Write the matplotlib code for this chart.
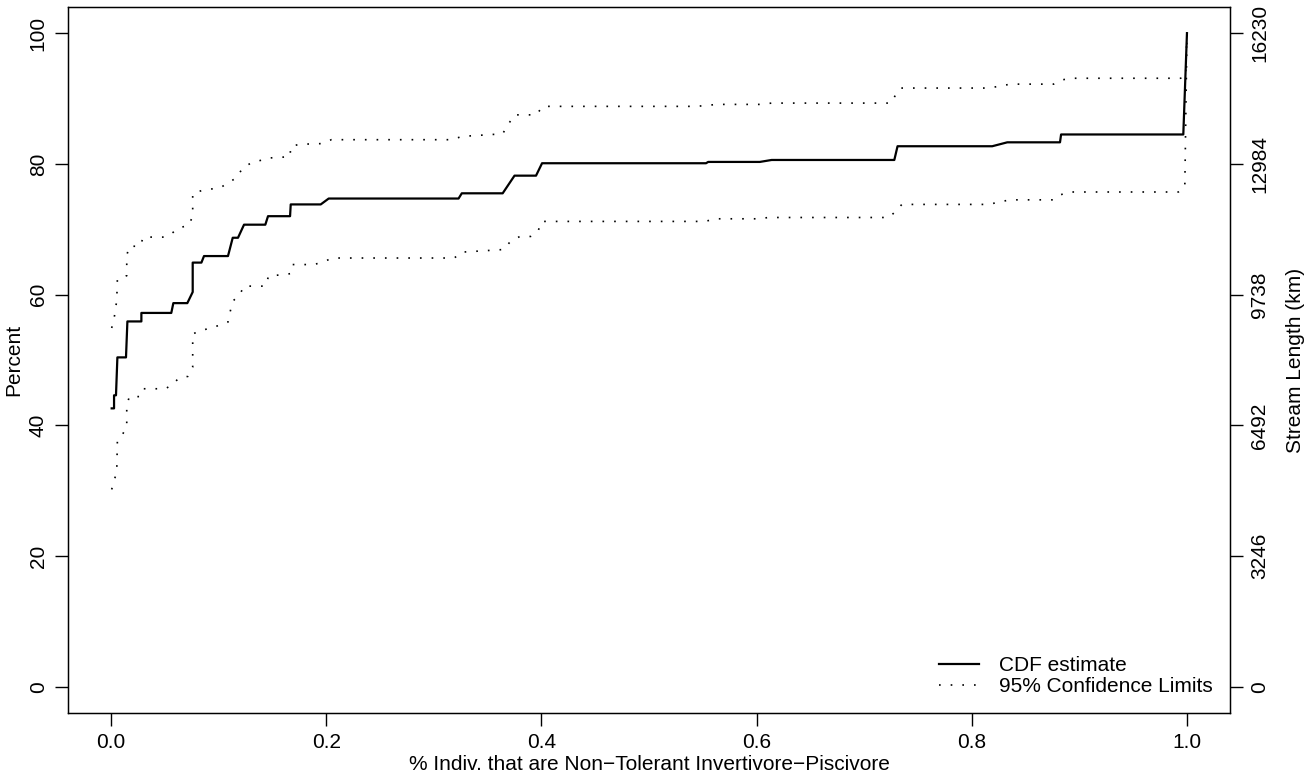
import matplotlib
matplotlib.use("Agg")
import matplotlib.pyplot as plt

plt.rcParams['font.family'] = ['Liberation Sans', 'DejaVu Sans']
plt.rcParams['font.size'] = 15

# CDF estimate (x = proportion, y = percent)
cdf_x = [0.0006, 0.0028, 0.0028, 0.0046, 0.0059, 0.0139, 0.0152, 0.0282, 0.0282,
         0.056, 0.0579, 0.0709, 0.0759, 0.0759, 0.084, 0.0864, 0.1087, 0.1131,
         0.118, 0.1236, 0.1434, 0.1459, 0.1664, 0.167, 0.1949, 0.2023,
         0.323, 0.326, 0.364, 0.375, 0.395, 0.4006, 0.553, 0.555, 0.603, 0.614,
         0.728, 0.731, 0.819, 0.833, 0.882, 0.883, 0.9966, 1.0]
cdf_y = [42.6, 42.6, 44.6, 44.6, 50.4, 50.4, 55.9, 55.9, 57.2,
         57.2, 58.7, 58.7, 60.4, 64.9, 64.9, 65.9, 65.9, 68.7,
         68.7, 70.7, 70.7, 72.0, 72.0, 73.8, 73.8, 74.7,
         74.7, 75.5, 75.5, 78.2, 78.2, 80.1, 80.1, 80.3, 80.3, 80.6,
         80.6, 82.7, 82.7, 83.3, 83.3, 84.5, 84.5, 100.0]

# upper 95% confidence limit
upper_x = [0.0006, 0.0028, 0.0053, 0.0059, 0.0146, 0.0146, 0.017, 0.027, 0.030,
           0.050, 0.0567, 0.0629, 0.0722, 0.0759, 0.0759, 0.084, 0.102, 0.1168,
           0.1224, 0.1298, 0.1466, 0.1664, 0.167, 0.1757, 0.1955, 0.2048,
           0.317, 0.326, 0.364, 0.369, 0.375, 0.395, 0.4015, 0.544, 0.554, 0.563,
           0.603, 0.614, 0.725, 0.729, 0.734, 0.816, 0.826, 0.836, 0.876, 0.883,
           0.891, 0.994, 0.9987, 1.0]
upper_y = [54.9, 56.3, 59.1, 62.4, 62.9, 66.0, 67.4, 67.4, 68.8,
           68.8, 69.4, 70.2, 70.6, 72.0, 75.5, 75.9, 76.4, 77.9,
           79.4, 80.1, 80.9, 81.1, 82.7, 83.0, 83.1, 83.7,
           83.7, 84.2, 84.6, 86.0, 87.5, 87.5, 88.8, 88.8, 88.95, 89.1,
           89.1, 89.3, 89.3, 90.5, 91.6, 91.6, 91.9, 92.2, 92.2, 92.8,
           93.1, 93.1, 93.3, 100.0]

# lower 95% confidence limit
lower_x = [0.0006, 0.0028, 0.0053, 0.0059, 0.0109, 0.0146, 0.0146, 0.017, 0.027,
           0.030, 0.0505, 0.0567, 0.0629, 0.0716, 0.0759, 0.0759, 0.084, 0.1006,
           0.1087, 0.1106, 0.1131, 0.1193, 0.1236, 0.1434, 0.1466, 0.1571, 0.1664,
           0.1683, 0.189, 0.198, 0.2066, 0.319, 0.326, 0.365, 0.371, 0.380, 0.390,
           0.3969, 0.400, 0.552, 0.562, 0.602, 0.611, 0.723, 0.729, 0.735, 0.816,
           0.826, 0.836, 0.876, 0.883, 0.891, 0.992, 0.998, 1.0]
lower_y = [30.2, 31.5, 32.9, 37.7, 38.7, 39.7, 43.0, 44.4, 44.4,
           45.6, 45.6, 46.2, 47.2, 47.5, 48.9, 54.0, 54.5, 55.3,
           55.8, 57.3, 59.0, 59.9, 61.3, 61.3, 62.9, 63.0, 63.2,
           64.6, 64.6, 65.1, 65.6, 65.6, 66.5, 66.9, 68.1, 68.9, 68.9,
           69.7, 71.2, 71.2, 71.6, 71.6, 71.8, 71.8, 72.7, 73.8, 73.8,
           74.2, 74.5, 74.5, 75.3, 75.7, 75.7, 76.5, 100.0]

x_ticks = [0.0, 0.2, 0.4, 0.6, 0.8, 1.0]
x_ticklabels = ["0.0", "0.2", "0.4", "0.6", "0.8", "1.0"]
pct_ticks = [0, 20, 40, 60, 80, 100]
length_ticklabels = ["0", "3246", "6492", "9738", "12984", "16230"]

fig = plt.figure(figsize=(13.16, 7.84), dpi=100)
ax = fig.add_axes([68 / 1316, 1 - 713 / 784, (1230 - 68) / 1316, (713 - 7) / 784])

ax.plot(cdf_x, cdf_y, color="black", lw=1.6, label="CDF estimate")
dot = (0, (1, 6))
ax.plot(upper_x, upper_y, color="black", lw=1.2, linestyle=dot,
        label="95% Confidence Limits")
ax.plot(lower_x, lower_y, color="black", lw=1.2, linestyle=dot)

ax.set_xlim(-0.04, 1.04)
ax.set_ylim(-4, 104)
ax.set_xticks(x_ticks)
ax.set_xticklabels(x_ticklabels)
ax.set_yticks(pct_ticks)
ax.set_yticklabels([str(p) for p in pct_ticks], rotation=90, va="center")
ax.tick_params(length=9.5, width=1.0, pad=5)
for s in ax.spines.values():
    s.set_linewidth(1.0)

ax.set_xlabel("% Indiv. that are Non\u2212Tolerant Invertivore\u2212Piscivore", labelpad=2)
ax.set_ylabel("Percent", labelpad=4)

ax2 = ax.twinx()
ax2.set_ylim(ax.get_ylim())
ax2.set_yticks(pct_ticks)
ax2.set_yticklabels(length_ticklabels, rotation=90, va="center")
ax2.tick_params(length=9.5, width=1.0, pad=5)
ax2.set_ylabel("Stream Length (km)", labelpad=12)

leg = ax.legend(loc="lower right", bbox_to_anchor=(0.992, 0.012), frameon=False,
                handlelength=1.9, handletextpad=0.95, labelspacing=0.1,
                borderaxespad=0)

fig.savefig("out.png", dpi=100)
